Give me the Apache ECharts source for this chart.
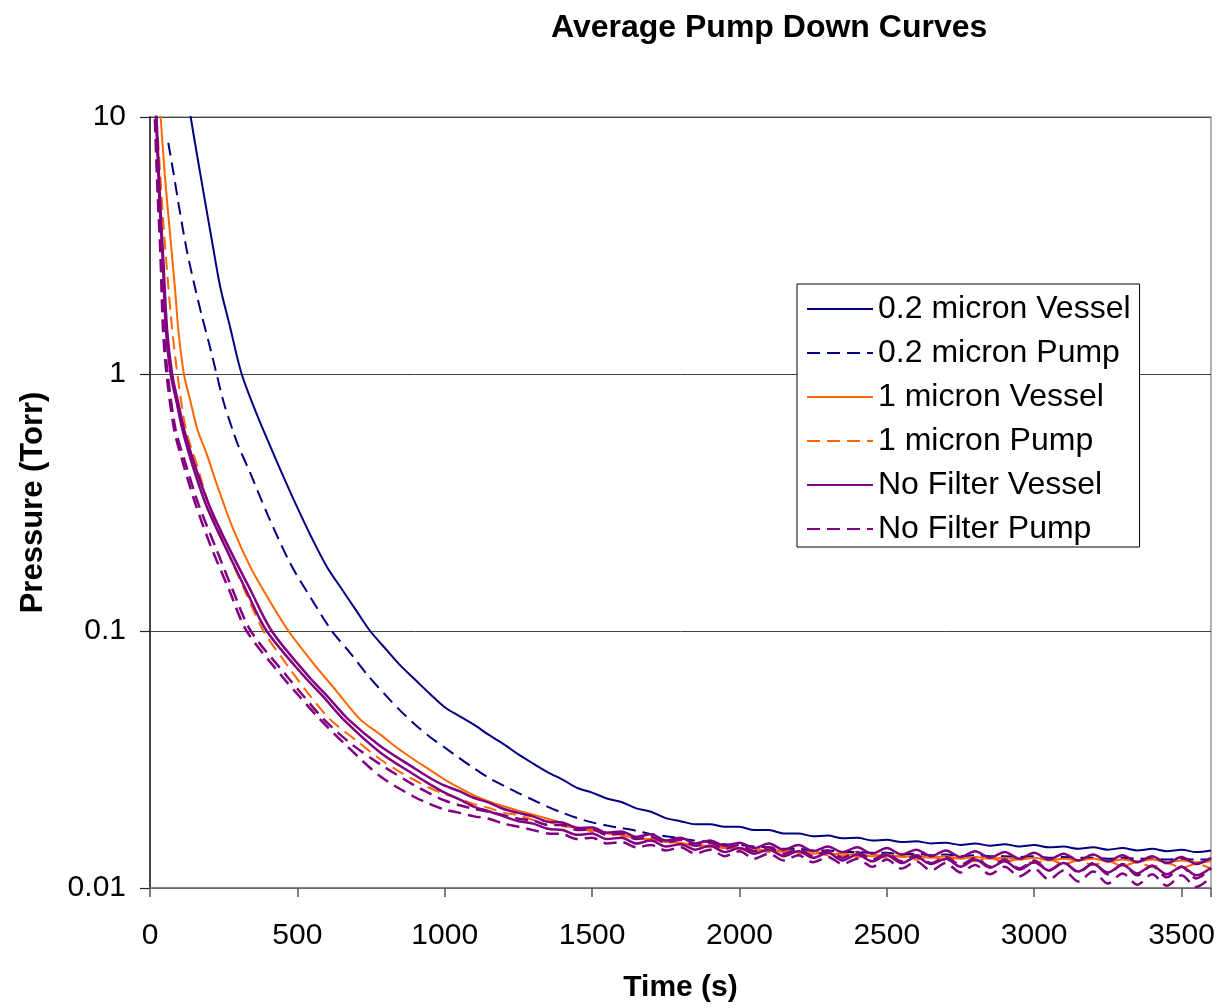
<!DOCTYPE html>
<html>
<head>
<meta charset="utf-8">
<script src="https://cdn.jsdelivr.net/npm/echarts@6/dist/echarts.min.js"></script>
<style>
  html, body { margin: 0; padding: 0; background: #fff; }
  #chart { width: 1222px; height: 1008px; }
</style>
</head>
<body>
<div id="chart"></div>
<script>
  'use strict'
  /*----- pump down data (time s, pressure Torr) -----*/
  var legendNames = ['0.2 micron Vessel', '0.2 micron Pump', '1 micron Vessel', '1 micron Pump', 'No Filter Vessel', 'No Filter Pump'];
  var xTicks = [0, 500, 1000, 1500, 2000, 2500, 3000, 3500];
  var yTicks = [0.01, 0.1, 1, 10];

  // early part of each curve
  var navyVesselT = [120, 138, 160, 187, 210, 238, 270, 311, 360, 400, 453, 500, 550, 600, 650, 700, 747, 800, 850, 900, 950];
  var navyVesselP = [13.5, 10, 7.08, 4.68, 3.31, 2.19, 1.55, 1.0, 0.708, 0.55, 0.398, 0.302, 0.229, 0.178, 0.146, 0.120, 0.100, 0.0851, 0.0733, 0.0646, 0.0569];

  var navyPumpT = [62, 80, 100, 125, 150, 175, 200, 226, 250, 280, 300, 340, 400, 475, 550, 617, 679, 741, 800, 849, 900, 950];
  var navyPumpP = [7.94, 6.03, 4.37, 3.02, 2.24, 1.70, 1.32, 1.0, 0.776, 0.607, 0.525, 0.412, 0.282, 0.184, 0.132, 0.1, 0.0822, 0.0668, 0.0562, 0.049, 0.0432, 0.0387];

  var orangeVesselT = [30, 36, 50, 68, 85, 96, 115, 138, 161, 192, 230, 283, 340, 396, 470, 550, 630, 713, 781, 837, 894, 950];
  var orangeVesselP = [12.0, 10.0, 6.0, 3.5, 2.14, 1.49, 1.0, 0.776, 0.607, 0.49, 0.363, 0.248, 0.178, 0.137, 0.1, 0.0759, 0.0589, 0.0453, 0.0396, 0.0352, 0.0317, 0.0288];

  var orangePumpT = [22, 30, 45, 60, 75, 93, 122, 160, 200, 255, 320, 385, 450, 530, 611, 700, 781, 850, 900, 950];
  var orangePumpP = [10.0, 7.3, 3.9, 2.35, 1.5, 1.0, 0.607, 0.44, 0.31, 0.214, 0.145, 0.1, 0.078, 0.0585, 0.0453, 0.0375, 0.0317, 0.0282, 0.0262, 0.0245];

  var purpleVesselAT = [15, 22, 35, 45, 58, 75, 95, 116, 150, 200, 265, 340, 413, 537, 600, 673, 781, 894, 950];
  var purpleVesselAP = [14, 10.0, 4.5, 2.8, 1.49, 1.0, 0.78, 0.607, 0.45, 0.31, 0.214, 0.145, 0.1, 0.0668, 0.056, 0.0453, 0.0357, 0.0294, 0.0268];

  var purpleVesselBT = [13, 20, 33, 43, 54, 70, 90, 110, 142, 190, 254, 325, 396, 522, 585, 656, 781, 894, 950];
  var purpleVesselBP = [14, 10.0, 4.5, 2.8, 1.49, 1.0, 0.78, 0.607, 0.45, 0.31, 0.214, 0.145, 0.1, 0.0668, 0.056, 0.0453, 0.0337, 0.0277, 0.0253];

  var purplePumpAT = [12, 18, 28, 37, 47, 60, 87, 120, 165, 221, 280, 342, 464, 520, 590, 681, 781, 894, 950];
  var purplePumpAP = [14, 10, 5.0, 3.0, 1.49, 1.0, 0.607, 0.45, 0.31, 0.214, 0.145, 0.1, 0.0668, 0.056, 0.0453, 0.0365, 0.0303, 0.0252, 0.0233];

  var purplePumpBT = [10, 16, 26, 35, 44, 56, 82, 112, 155, 206, 268, 328, 447, 505, 577, 670, 781, 894, 950];
  var purplePumpBP = [14, 10, 5.0, 3.0, 1.49, 1.0, 0.607, 0.45, 0.31, 0.214, 0.145, 0.1, 0.0668, 0.056, 0.0453, 0.0355, 0.0272, 0.0227, 0.0212];

  // late (noisy) part, sampled on a shared time grid
  var tailT = [1000,1050,1100,1150,1200,1250,1300,1350,1400,1450,
               1500,1550,1600,1650,1700,1750,1800,1850,1900,1950,
               2000,2050,2100,2150,2200,2250,2300,2350,2400,2450,
               2500,2550,2600,2650,2700,2750,2800,2850,2900,2950,
               3000,3050,3100,3150,3200,3250,3300,3350,3400,3450,
               3500,3550,3600];

  var navyVesselTail = [0.0505,0.0466,0.0431,0.0394,0.0363,0.0331,0.0305,0.0282,0.0264,0.0245,
                        0.0235,0.0223,0.0216,0.0204,0.0198,0.0187,0.0182,0.0177,0.0177,0.0173,
                        0.0173,0.0168,0.0168,0.0163,0.0163,0.0159,0.0160,0.0156,0.0157,0.0153,
                        0.0154,0.0151,0.0152,0.0149,0.0150,0.0147,0.0149,0.0146,0.0148,0.0145,
                        0.0147,0.0144,0.0145,0.0142,0.0144,0.0141,0.0143,0.0140,0.0142,0.0139,
                        0.0141,0.0138,0.0140];
  var navyPumpTail = [0.0352,0.0320,0.0292,0.0268,0.0250,0.0234,0.0220,0.0207,0.0196,0.0187,
                      0.0180,0.0175,0.0171,0.0167,0.0162,0.0159,0.0156,0.0153,0.0151,0.0148,
                      0.0147,0.0145,0.0144,0.0142,0.0142,0.0140,0.0140,0.0138,0.0138,0.0137,
                      0.0137,0.0135,0.0136,0.0134,0.0135,0.0133,0.0134,0.0133,0.0133,0.0132,
                      0.0133,0.0131,0.0132,0.0131,0.0131,0.0130,0.0131,0.0130,0.0130,0.0129,
                      0.0130,0.0129,0.0129];
  var orangeVesselTail = [0.0264,0.0245,0.0229,0.0217,0.0208,0.0200,0.0193,0.0186,0.0179,0.0172,
                          0.0168,0.0163,0.0161,0.0156,0.0155,0.0151,0.0150,0.0146,0.0146,0.0143,
                          0.0143,0.0140,0.0141,0.0138,0.0139,0.0136,0.0137,0.0134,0.0136,0.0133,
                          0.0135,0.0132,0.0134,0.0131,0.0133,0.0130,0.0132,0.0130,0.0131,0.0129,
                          0.0131,0.0128,0.0130,0.0128,0.0130,0.0127,0.0129,0.0127,0.0129,0.0126,
                          0.0128,0.0126,0.0127];
  var orangePumpTail = [0.0232,0.0222,0.0212,0.0205,0.0196,0.0192,0.0184,0.0181,0.0174,0.0172,
                        0.0166,0.0164,0.0159,0.0158,0.0153,0.0153,0.0148,0.0149,0.0144,0.0146,
                        0.0141,0.0143,0.0138,0.0141,0.0136,0.0139,0.0134,0.0137,0.0132,0.0135,
                        0.0131,0.0134,0.0129,0.0133,0.0128,0.0132,0.0127,0.0131,0.0126,0.0130,
                        0.0125,0.0129,0.0124,0.0128,0.0123,0.0127,0.0122,0.0126,0.0121,0.0125,
                        0.0120,0.0124,0.0119];
  var purpleVesselATail = [0.0250,0.0238,0.0224,0.0215,0.0203,0.0196,0.0190,0.0181,0.0180,0.0171,
                           0.0172,0.0164,0.0166,0.0158,0.0162,0.0153,0.0157,0.0149,0.0153,0.0146,
                           0.0150,0.0143,0.0149,0.0141,0.0147,0.0139,0.0145,0.0138,0.0144,0.0136,
                           0.0143,0.0135,0.0141,0.0133,0.0140,0.0132,0.0139,0.0131,0.0138,0.0130,
                           0.0137,0.0129,0.0136,0.0128,0.0135,0.0127,0.0134,0.0126,0.0133,0.0125,
                           0.0132,0.0124,0.0131];
  var purpleVesselBTail = [0.0235,0.0221,0.0207,0.0199,0.0190,0.0182,0.0178,0.0170,0.0168,0.0161,
                           0.0163,0.0155,0.0157,0.0149,0.0153,0.0145,0.0148,0.0141,0.0146,0.0138,
                           0.0143,0.0136,0.0141,0.0133,0.0139,0.0131,0.0137,0.0128,0.0135,0.0127,
                           0.0134,0.0125,0.0132,0.0124,0.0130,0.0121,0.0129,0.0120,0.0127,0.0118,
                           0.0126,0.0117,0.0125,0.0116,0.0124,0.0115,0.0123,0.0114,0.0122,0.0113,
                           0.0121,0.0112,0.0120];
  var purplePumpATail = [0.0219,0.0210,0.0203,0.0198,0.0192,0.0186,0.0183,0.0176,0.0176,0.0168,
                         0.0169,0.0161,0.0163,0.0155,0.0158,0.0150,0.0154,0.0146,0.0150,0.0142,
                         0.0147,0.0139,0.0144,0.0136,0.0142,0.0133,0.0140,0.0131,0.0138,0.0129,
                         0.0136,0.0127,0.0134,0.0125,0.0132,0.0123,0.0131,0.0121,0.0129,0.0119,
                         0.0128,0.0117,0.0126,0.0115,0.0125,0.0113,0.0124,0.0112,0.0122,0.0110,
                         0.0121,0.0109,0.0119];
  var purplePumpBTail = [0.0202,0.0196,0.0190,0.0186,0.0178,0.0173,0.0168,0.0163,0.0162,0.0155,
                         0.0157,0.0149,0.0151,0.0144,0.0147,0.0140,0.0144,0.0136,0.0141,0.0133,
                         0.0139,0.0130,0.0136,0.0128,0.0134,0.0126,0.0132,0.0124,0.0130,0.0121,
                         0.0129,0.0119,0.0127,0.0117,0.0125,0.0115,0.0123,0.0113,0.0121,0.0111,
                         0.0119,0.0108,0.0117,0.0106,0.0116,0.0104,0.0114,0.0103,0.0113,0.0102,
                         0.0112,0.0101,0.0110];

  function build(t, p, tail) {
    var out = t.map(function (x, i) { return [x, p[i]]; });
    tailT.forEach(function (x, i) { out.push([x, tail[i]]); });
    return out;
  }

  var NAVY = '#000080', ORANGE = '#FF6600', PURPLE = '#800080';
  var FONT = "'Liberation Sans', Arial, sans-serif";

  function line(name, color, dashed, width, data) {
    return {
      name: name,
      type: 'line',
      data: data,
      showSymbol: false,
      symbol: 'none',
      smooth: 0.3,
      clip: true,
      lineStyle: { color: color, width: width, type: dashed ? [13, 7] : 'solid' },
      itemStyle: { color: color }
    };
  }

  var chartdata = [
    line(legendNames[0], NAVY, false, 2, build(navyVesselT, navyVesselP, navyVesselTail)),
    line(legendNames[1], NAVY, true, 2, build(navyPumpT, navyPumpP, navyPumpTail)),
    line(legendNames[2], ORANGE, false, 2, build(orangeVesselT, orangeVesselP, orangeVesselTail)),
    line(legendNames[3], ORANGE, true, 2, build(orangePumpT, orangePumpP, orangePumpTail)),
    line(legendNames[4], PURPLE, false, 2.5, build(purpleVesselAT, purpleVesselAP, purpleVesselATail)),
    line(legendNames[4], PURPLE, false, 2.5, build(purpleVesselBT, purpleVesselBP, purpleVesselBTail)),
    line(legendNames[5], PURPLE, true, 2.5, build(purplePumpAT, purplePumpAP, purplePumpATail)),
    line(legendNames[5], PURPLE, true, 2.5, build(purplePumpBT, purplePumpBP, purplePumpBTail))
  ];

  var chart = echarts.init(document.getElementById('chart'));

  var option = {
    animation: false,
    backgroundColor: '#fff',
    textStyle: { fontFamily: FONT },
    title: {
      text: 'Average Pump Down Curves',
      left: 551,
      top: 12,
      padding: 0,
      textStyle: { fontFamily: FONT, fontWeight: 'bold', fontSize: 32, color: '#000' }
    },
    grid: {
      left: 150,
      right: 11,
      top: 117,
      bottom: 119,
      show: true,
      borderColor: '#999',
      borderWidth: 1.5,
      backgroundColor: '#fff'
    },
    legend: {
      data: legendNames,
      orient: 'vertical',
      left: 797,
      top: 284,
      padding: [9, 9, 2, 9],
      itemWidth: 66,
      itemHeight: 14,
      itemGap: 12,
      itemStyle: { opacity: 0 },
      backgroundColor: '#fff',
      borderColor: '#000',
      borderWidth: 1,
      borderRadius: 0,
      textStyle: { fontFamily: FONT, fontSize: 32, color: '#000', lineHeight: 32 }
    },
    xAxis: {
      type: 'value',
      min: 0,
      max: 3600,
      interval: 500,
      name: 'Time (s)',
      nameLocation: 'middle',
      nameGap: 85,
      nameTextStyle: { fontFamily: FONT, fontWeight: 'bold', fontSize: 30, color: '#000' },
      axisLine: { show: true, lineStyle: { color: '#777', width: 1.5 } },
      axisTick: { show: true, length: 9, lineStyle: { color: '#555', width: 1.5 } },
      axisLabel: {
        margin: 33,
        fontSize: 30,
        color: '#000',
        fontFamily: FONT,
        formatter: function (v) { return xTicks.indexOf(v) >= 0 ? String(v) : ''; }
      },
      splitLine: { show: false }
    },
    yAxis: {
      type: 'log',
      logBase: 10,
      min: yTicks[0],
      max: yTicks[yTicks.length - 1],
      name: 'Pressure (Torr)',
      nameLocation: 'middle',
      nameRotate: 90,
      nameGap: 101,
      nameTextStyle: { fontFamily: FONT, fontWeight: 'bold', fontSize: 31, color: '#000' },
      axisLine: { show: true, lineStyle: { color: '#222', width: 1.5 } },
      axisTick: { show: true, length: 10, lineStyle: { color: '#222', width: 1.2 } },
      axisLabel: {
        margin: 24,
        fontSize: 30,
        color: '#000',
        fontFamily: FONT,
        formatter: function (v) { return String(Number(v.toPrecision(3))); }
      },
      splitLine: { show: true, lineStyle: { color: '#444', width: 1 } }
    },
    series: chartdata
  };

  chart.setOption(option);
</script>
</body>
</html>
